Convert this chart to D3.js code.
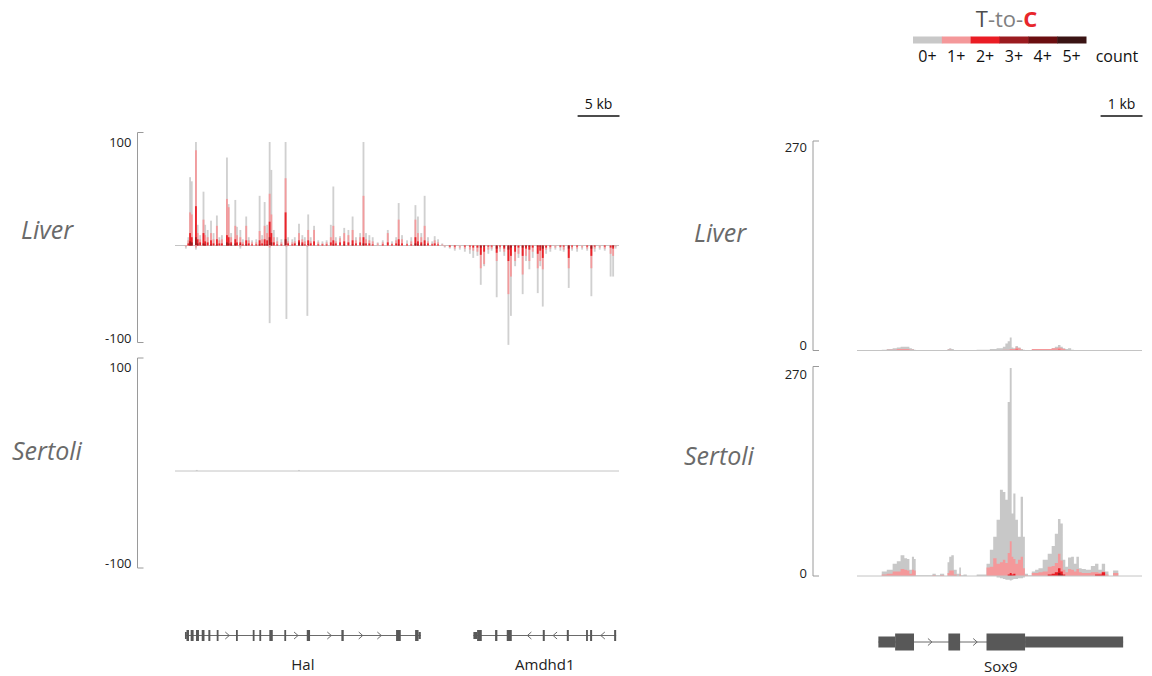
<!DOCTYPE html>
<html>
<head>
<meta charset="utf-8">
<title>T-to-C coverage</title>
<script src="https://d3js.org/d3.v7.min.js"></script>
<style>
  body { margin: 0; background: #fff; }
  text { font-family: "Open Sans", "Noto Sans", sans-serif; }
</style>
</head>
<body>
<script>
// ---- data ----
// T-to-C count levels
const levelLabels = ["0+", "1+", "2+", "3+", "4+", "5+"];
const levelColors = ["#c8c8c8", "#f4989a", "#ea1c24", "#9b1b20", "#6b0e10", "#3a1414"];

// Hal / Amdhd1 locus, liver, plus strand (kb, reads with >=0,1,2,3 T-to-C)
const liverPlusKb = [1.6,1.8,2.0,2.5,2.7,3.0,3.4,3.6,3.9,4.3,4.6,5.0,5.3,5.6,6.2,6.4,6.7,7.2,7.4,7.8,8.1,8.5,8.8,9.2,9.7,10.1,10.4,10.7,11.0,11.3,11.5,11.8,12.2,12.7,13.2,13.5,14.0,14.3,14.8,15.2,15.5,15.9,16.2,16.6,17.1,17.6,18.1,18.6,18.9,19.2,19.7,20.2,20.7,21.2,21.6,22.1,22.5,22.8,23.2,23.6,24.2,24.8,25.4,25.9,26.4,26.7,27.1,27.7,28.2,28.7,29.0,29.4,29.8,30.2,30.7,31.0,31.4,31.9];
const liverPlus0 = [8,66,62,100,20,10,52,20,15,24,12,29,8,10,85,40,12,44,18,15,6,28,8,5,6,48,10,42,20,100,73,15,8,6,100,8,6,8,21,10,8,30,8,19,5,4,5,20,57,8,9,17,15,28,8,12,100,12,10,8,3,5,15,4,8,41,10,5,8,39,28,12,48,8,4,9,6,2];
const liverPlus1 = [5,32,30,92,12,6,25,10,8,12,6,19,5,6,45,37,8,19,10,8,3,19,5,3,3,14,6,19,12,50,30,8,4,3,65,4,3,4,12,6,4,15,4,15,3,2,3,8,19,4,7,12,10,15,5,8,48,6,5,4,2,3,12,2,5,25,6,2,4,25,12,8,19,4,2,5,3,1];
const liverPlus2 = [2,12,8,38,6,3,12,4,3,5,2,6,2,2,10,8,3,6,3,3,1,5,2,1,1,5,2,6,5,23,12,3,1,1,32,2,1,2,5,3,1,5,2,4,1,1,1,3,5,2,3,4,3,5,2,3,8,2,2,1,0,1,3,1,2,6,2,1,1,8,4,3,5,2,1,2,1,0];
const liverPlus3 = [0,4,3,8,2,0,2,1,0,1,0,1,0,0,3,2,1,2,0,1,0,1,0,0,0,1,0,1,1,8,3,0,0,0,6,0,0,0,3,1,0,1,0,0,0,0,0,0,1,0,0,1,0,1,0,0,2,0,0,0,0,0,0,0,0,1,0,0,0,2,1,1,1,0,0,0,0,0];

// liver, minus strand
const liverMinusKb = [1.3,2.5,7.8,11.3,13.3,15.8,32.2,32.8,33.4,34.0,34.6,35.2,35.6,36.1,36.5,36.9,37.4,37.8,38.4,38.8,39.3,39.8,40.1,40.6,41.0,41.5,41.9,42.3,42.7,43.3,43.6,43.9,44.3,44.8,45.4,46.0,46.4,47.0,47.4,48.0,48.6,49.2,49.7,50.1,50.7,51.3,52.0,52.3,52.6];
const liverMinus0 = [3,4,3,75,71,68,2,3,5,4,6,8,12,10,38,20,8,5,50,6,10,96,68,20,12,47,15,23,12,46,20,59,8,6,4,5,6,41,5,6,4,5,49,6,4,5,30,30,3];
const liverMinus1 = [1,2,1,2,1,1,1,2,3,2,3,4,5,6,22,18,4,3,15,3,6,47,30,15,8,28,10,15,6,22,15,23,4,3,2,2,4,22,3,3,2,3,22,3,2,3,8,10,1];
const liverMinus2 = [0,0,0,0,0,0,0,1,1,0,1,1,2,2,9,6,1,1,7,1,3,15,10,6,2,10,3,4,2,8,5,12,2,1,0,1,1,12,1,1,0,1,10,1,0,1,2,3,0];
const liverMinus3 = [0,0,0,0,0,0,0,0,0,0,0,0,0,0,2,1,0,0,3,0,1,4,2,1,0,2,1,1,0,1,1,3,0,0,0,0,0,3,0,0,0,0,3,0,0,0,0,1,0];

// same locus, Sertoli (nearly empty)
const sertoliHalKb = [2.6, 14.8];
const sertoliHal0 = [1, 1];

// Sox9 locus (kb) shared grid
const soxKb = [0.00,0.55,0.63,0.79,0.91,0.99,1.09,1.17,1.22,1.28,1.34,1.38,1.42,1.78,1.82,1.94,2.02,2.14,2.18,2.22,2.28,2.34,2.42,2.46,2.50,2.58,2.66,3.05,3.13,3.21,3.29,3.37,3.45,3.51,3.57,3.62,3.67,3.71,3.75,3.81,3.87,3.94,3.98,4.03,4.13,4.21,4.29,4.37,4.49,4.61,4.68,4.76,4.83,4.88,4.94,5.00,5.07,5.15,5.20,5.27,5.32,5.40,5.52,5.64,5.72,5.80,5.88,5.96,6.04,6.18,6.29,6.80];
const soxLiver0 = [0,0,1,2,3,4,5,5,5,3,2,1,0,0,0,0,0,0,2,3,2,0,0,0,0,0,0,1,1,2,2,3,3,5,9,12,17,4,3,6,4,2,1,0,0,1,1,1,1,2,3,5,7,5,3,2,3,1,0,0,0,0,0,0,0,0,0,0,0,0,0,0];
const soxLiver1 = [0,0,0,1,1,2,2,2,2,1,1,0,0,0,0,0,0,0,1,1,0,0,0,0,0,0,0,0,0,0,0,0,0,1,1,1,2,2,2,4,3,1,0,0,0,2,2,2,2,2,3,3,4,3,2,0,0,0,0,0,0,0,0,0,0,0,0,0,0,0,0,0];
const soxLiver2 = [0,0,0,0,0,0,0,0,0,0,0,0,0,0,0,0,0,0,0,0,0,0,0,0,0,0,0,0,0,0,0,0,0,0,0,0,0,0,0,1,0,0,0,0,0,0,0,0,0,0,0,0,1,0,0,0,0,0,0,0,0,0,0,0,0,0,0,0,0,0,0,0];
const soxSertoli0 = [0,0,6,8,16,19,27,23,22,8,25,22,1,1,3,1,3,0,18,25,27,8,3,11,1,2,0,2,16,34,51,73,112,109,99,226,270,81,107,73,51,103,51,3,1,6,8,10,21,29,39,55,74,68,21,12,24,25,16,25,10,9,8,13,16,8,16,6,0,7,0,0];
const soxSertoli1 = [0,0,2,3,6,6,9,8,7,3,8,7,0,0,1,0,1,0,4,7,7,2,0,2,0,0,0,0,11,12,23,16,18,21,17,30,45,25,22,16,21,25,10,1,0,4,4,5,6,12,13,17,29,20,8,5,9,8,6,9,5,4,4,5,5,4,6,2,0,4,0,0];
const soxSertoli2 = [0,0,0,0,0,0,0,0,0,0,0,0,0,0,0,0,0,0,0,0,0,0,0,0,0,0,0,0,0,0,0,0,0,0,0,2,4,2,3,0,0,0,0,0,0,0,0,0,0,2,3,5,10,6,2,0,0,0,0,0,0,0,0,0,2,2,5,0,0,0,0,0];
const soxSertoli3 = [0,0,0,0,0,0,0,0,0,0,0,0,0,0,0,0,0,0,0,0,0,0,0,0,0,0,0,0,0,0,0,0,0,0,0,0,1,0,0,0,0,0,0,0,0,0,0,0,0,0,0,0,4,2,0,0,0,0,0,0,0,0,0,0,0,0,0,0,0,0,0,0];
const soxSertoliRev = [0,0,0,0,0,0,0,0,0,0,0,0,0,0,0,0,0,0,0,0,0,0,0,0,0,0,0,0,0,0,0,2,3,4,5,5,6,5,4,4,3,3,2,0,0,0,0,0,0,0,0,0,0,0,0,0,0,0,0,0,0,0,0,0,0,0,0,0,0,0,0,0];

// gene models (kb): [start, end, kind]  kind "u" = UTR, "e" = coding exon
const halExons = [[1.19,1.37,"u"],[1.37,1.67,"e"],[1.87,2.22,"e"],[2.51,2.86,"e"],[3.19,3.52,"e"],[3.98,4.22,"e"],[4.98,5.17,"e"],[7.28,7.49,"e"],[9.28,9.47,"e"],[10.07,10.27,"e"],[11.26,11.67,"e"],[13.05,13.25,"e"],[15.73,16.12,"e"],[19.86,20.14,"e"],[26.39,26.95,"e"],[28.66,29.07,"e"],[29.07,29.34,"u"]];
const halArrows = [6.24, 14.45, 18.42, 22.17, 24.39];
const amdhd1Exons = [[35.62,36.06,"u"],[36.06,36.62,"e"],[38.21,38.48,"e"],[39.60,40.20,"e"],[43.90,44.14,"e"],[46.77,47.01,"e"],[49.07,49.27,"e"],[49.55,49.79,"e"],[52.42,52.66,"e"]];
const amdhd1Arrows = [42.30, 45.37, 51.07];
const sox9Exons = [[0.51,0.91,"u"],[0.91,1.36,"e"],[2.18,2.46,"e"],[3.09,4.01,"e"],[4.01,6.35,"u"]];
const sox9Arrows = [1.74, 2.82];

// ---- drawing ----
const svg = d3.select("body").append("svg")
    .attr("width", 1152)
    .attr("height", 676);

const xHal = d3.scaleLinear().domain([0, 53]).range([175, 619]);
const xSox = d3.scaleLinear().domain([0, 6.8]).range([857, 1142]);

const yLiverHal = d3.scaleLinear().domain([-100, 100]).range([349, 142]);
const ySertoliHal = d3.scaleLinear().domain([-100, 100]).range([574.5, 367.5]);
const yLiverSox = d3.scaleLinear().domain([0, 270]).range([350.5, 142.5]);
const ySertoliSox = d3.scaleLinear().domain([0, 270]).range([576, 368]);

// bars for the Hal locus; sign = 1 up, -1 down
function drawBars(x, y, kb, layers, sign) {
    const g = svg.append("g");
    const w = x(0.22) - x(0);
    layers.forEach(function(vals, li) {
        g.selectAll(null)
            .data(kb.map(function(k, i) { return {k: k, v: Math.min(vals[i], 100)}; })
                .filter(function(d) { return d.v > 0; }))
            .join("rect")
            .attr("x", function(d) { return x(d.k) - w / 2; })
            .attr("width", w)
            .attr("y", function(d) { return sign > 0 ? y(d.v) : y(0); })
            .attr("height", function(d) { return Math.abs(y(0) - y(sign * d.v)); })
            .attr("fill", levelColors[li])
            .attr("opacity", li === 0 ? 0.85 : 0.95);
    });
}

// step profiles for the Sox9 locus
function drawProfile(x, y, layers, sign) {
    layers.forEach(function(vals, li) {
        const area = d3.area()
            .curve(d3.curveStep)
            .x(function(d) { return x(d.k); })
            .y0(y(0))
            .y1(function(d) { return sign > 0 ? y(d.v) : y(0) + (y(0) - y(d.v)); });
        svg.append("path")
            .datum(soxKb.map(function(k, i) { return {k: k, v: vals[i]}; }))
            .attr("d", area)
            .attr("fill", levelColors[li]);
    });
}

function zeroLine(x, y) {
    svg.append("line")
        .attr("x1", x.range()[0]).attr("x2", x.range()[1])
        .attr("y1", y(0)).attr("y2", y(0))
        .attr("stroke", "#c4c4c4").attr("stroke-width", 1);
}

// vertical bracket axis with end labels
function bracket(bx, top, bottom, topLabel, topY, botLabel, botY) {
    svg.append("path")
        .attr("d", "M" + (bx + 6) + "," + top + "H" + bx + "V" + bottom + "H" + (bx + 6))
        .attr("fill", "none").attr("stroke", "#9a9a9a").attr("stroke-width", 1);
    svg.append("text").attr("x", bx - 6).attr("y", topY).attr("dy", "0.35em")
        .attr("text-anchor", "end").attr("font-size", 13).attr("fill", "#222").text(topLabel);
    svg.append("text").attr("x", bx - 6).attr("y", botY).attr("dy", "0.35em")
        .attr("text-anchor", "end").attr("font-size", 13).attr("fill", "#222").text(botLabel);
}

function cellLabel(x, y, s) {
    svg.append("text").attr("x", x).attr("y", y)
        .attr("font-size", 25).attr("font-style", "italic")
        .attr("fill", "#6a6a6a").text(s);
}

// left: Hal / Amdhd1
zeroLine(xHal, yLiverHal);
drawBars(xHal, yLiverHal, liverPlusKb, [liverPlus0, liverPlus1, liverPlus2, liverPlus3], 1);
drawBars(xHal, yLiverHal, liverMinusKb, [liverMinus0, liverMinus1, liverMinus2, liverMinus3], -1);
bracket(137.5, yLiverHal(0) - 113, yLiverHal(0) + 97, "100", yLiverHal(0) - 103, "-100", yLiverHal(0) + 93);

zeroLine(xHal, ySertoliHal);
drawBars(xHal, ySertoliHal, sertoliHalKb, [sertoliHal0], 1);
bracket(137.5, ySertoliHal(0) - 113, ySertoliHal(0) + 97, "100", ySertoliHal(0) - 104, "-100", ySertoliHal(0) + 92);

// right: Sox9
drawProfile(xSox, yLiverSox, [soxLiver0, soxLiver1, soxLiver2], 1);
zeroLine(xSox, yLiverSox);
bracket(813, yLiverSox(270) - 1.5, yLiverSox(0), "270", yLiverSox(270) + 5, "0", yLiverSox(0) - 5);

drawProfile(xSox, ySertoliSox, [soxSertoliRev], -1);
drawProfile(xSox, ySertoliSox, [soxSertoli0, soxSertoli1, soxSertoli2, soxSertoli3], 1);
zeroLine(xSox, ySertoliSox);
bracket(813, ySertoliSox(270) - 1.5, ySertoliSox(0), "270", ySertoliSox(270) + 6, "0", ySertoliSox(0) - 3);

cellLabel(21, 239, "Liver");
cellLabel(12, 460, "Sertoli");
cellLabel(694, 242, "Liver");
cellLabel(684, 465, "Sertoli");

// scale bars
function scaleBar(x, kb, label) {
    const x1 = x.range()[1] + 0.5, x0 = x1 - (x(kb) - x(0));
    svg.append("line").attr("x1", x0).attr("x2", x1).attr("y1", 116).attr("y2", 116)
        .attr("stroke", "#111").attr("stroke-width", 1.5);
    svg.append("text").attr("x", (x0 + x1) / 2).attr("y", 109).attr("text-anchor", "middle")
        .attr("font-size", 14).attr("fill", "#111").text(label);
}
scaleBar(xHal, 5, "5 kb");
scaleBar(xSox, 1, "1 kb");

// gene models
function gene(x, exons, arrows, dir, cy, hE, hU, name, labelY) {
    const g = svg.append("g");
    g.append("line")
        .attr("x1", x(exons[0][0])).attr("x2", x(exons[exons.length - 1][1]))
        .attr("y1", cy).attr("y2", cy)
        .attr("stroke", "#6a6a6a").attr("stroke-width", 1);
    g.selectAll("rect").data(exons).join("rect")
        .attr("x", function(d) { return x(d[0]); })
        .attr("width", function(d) { return Math.max(1.8, x(d[1]) - x(d[0])); })
        .attr("y", function(d) { return cy - (d[2] === "e" ? hE : hU) / 2; })
        .attr("height", function(d) { return d[2] === "e" ? hE : hU; })
        .attr("fill", "#585858");
    g.selectAll("path").data(arrows).join("path")
        .attr("d", function(d) {
            const ax = x(d);
            return "M" + (ax - 2 * dir) + "," + (cy - 3.5) + "L" + (ax + 2 * dir) + "," + cy + "L" + (ax - 2 * dir) + "," + (cy + 3.5);
        })
        .attr("fill", "none").attr("stroke", "#6a6a6a").attr("stroke-width", 1);
    const mid = (x(exons[0][0]) + x(exons[exons.length - 1][1])) / 2;
    g.append("text").attr("x", mid).attr("y", labelY).attr("text-anchor", "middle")
        .attr("font-size", 15).attr("fill", "#222").text(name);
}
gene(xHal, halExons, halArrows, 1, 635.5, 11, 7, "Hal", 670);
gene(xHal, amdhd1Exons, amdhd1Arrows, -1, 635.5, 11, 7, "Amdhd1", 670);
gene(xSox, sox9Exons, sox9Arrows, 1, 642, 17, 11, "Sox9", 672);

// legend
const legX = d3.scaleBand().domain(levelLabels).range([913, 1086]);
const leg = svg.append("g");
leg.selectAll("rect").data(levelLabels).join("rect")
    .attr("x", function(d) { return legX(d); })
    .attr("width", legX.bandwidth() + 0.5)
    .attr("y", 36.5).attr("height", 7)
    .attr("fill", function(d, i) { return levelColors[i]; });
leg.selectAll("text.lvl").data(levelLabels).join("text")
    .attr("class", "lvl")
    .attr("x", function(d) { return legX(d) + legX.bandwidth() / 2; })
    .attr("y", 62).attr("text-anchor", "middle")
    .attr("font-size", 16).attr("fill", "#111").text(function(d) { return d; });
leg.append("text").attr("x", 1117).attr("y", 62).attr("text-anchor", "middle")
    .attr("font-size", 16).attr("fill", "#111").text("count");
const title = leg.append("text").attr("x", 1006.5).attr("y", 27).attr("text-anchor", "middle")
    .attr("font-size", 22);
title.append("tspan").attr("fill", "#4d4d4d").text("T");
title.append("tspan").attr("fill", "#808080").text("-to-");
title.append("tspan").attr("fill", "#e8262b").attr("font-weight", "bold").text("C");
</script>
</body>
</html>
